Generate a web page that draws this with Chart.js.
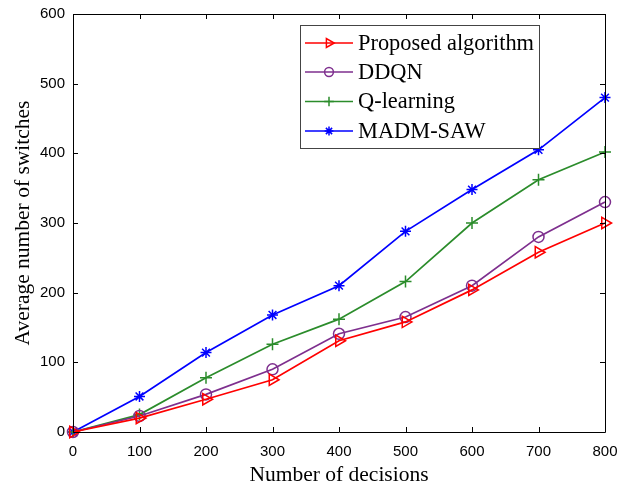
<!DOCTYPE html>
<html>
<head>
<meta charset="utf-8">
<script src="https://cdn.jsdelivr.net/npm/chart.js@4/dist/chart.umd.min.js"></script>
<style>
  html, body { margin: 0; padding: 0; background: #fff; }
  #wrap { width: 618px; height: 486px; }
</style>
</head>
<body>
<div id="wrap"><canvas id="c" width="618" height="486"></canvas></div>
<script>
// Number of decisions on the x axis
const decisions = [0, 100, 200, 300, 400, 500, 600, 700, 800];

// Average number of switches for each method
const proposed  = [0, 20, 47, 75, 131, 158, 204, 258, 300];
const ddqn      = [0, 23, 54, 90, 141, 165, 210, 280, 330];
const qLearning = [0, 25, 78, 126, 162, 216, 300, 362, 402];
const madmSaw   = [0, 51, 114, 168, 210, 288, 348, 405, 480];

// Tick values
const xTicks = [0, 100, 200, 300, 400, 500, 600, 700, 800];
const yTicks = [0, 100, 200, 300, 400, 500, 600];

const seriesNames = ['Proposed algorithm', 'DDQN', 'Q-learning', 'MADM-SAW'];

const toPoints = vals => vals.map((v, i) => ({ x: decisions[i], y: v }));

const styles = [
  { color: '#ff0000', pointStyle: 'triangle', rotation: 90, radius: 6.5 },
  { color: '#7e2f8e', pointStyle: 'circle',   rotation: 0,  radius: 5.5 },
  { color: '#2b8c2b', pointStyle: 'cross',    rotation: 0,  radius: 6 },
  { color: '#0000ff', pointStyle: 'star',     rotation: 0,  radius: 5.5 }
];
const allValues = [proposed, ddqn, qLearning, madmSaw];

const datasets = allValues.map((vals, i) => ({
  label: seriesNames[i],
  data: toPoints(vals),
  borderColor: styles[i].color,
  borderWidth: 1.7,
  pointStyle: styles[i].pointStyle,
  pointRotation: styles[i].rotation,
  pointRadius: styles[i].radius,
  pointBorderColor: styles[i].color,
  pointBackgroundColor: 'rgba(0,0,0,0)',
  pointBorderWidth: 1.5,
  tension: 0,
  fill: false,
  clip: false
}));

// Box around the plot with inward tick marks on all four sides
const framePlugin = {
  id: 'frame',
  afterDatasetsDraw(chart) {
    const { ctx, chartArea: { left, right, top, bottom }, scales: { x, y } } = chart;
    const tl = 5;
    ctx.save();
    ctx.strokeStyle = '#000';
    ctx.lineWidth = 1;
    ctx.beginPath();
    ctx.rect(Math.round(left) + 0.5, Math.round(top) + 0.5, Math.round(right - left), Math.round(bottom - top));
    xTicks.forEach(v => {
      const px = Math.round(x.getPixelForValue(v)) + 0.5;
      ctx.moveTo(px, bottom); ctx.lineTo(px, bottom - tl);
      ctx.moveTo(px, top); ctx.lineTo(px, top + tl);
    });
    yTicks.forEach(v => {
      const py = Math.round(y.getPixelForValue(v)) + 0.5;
      ctx.moveTo(left, py); ctx.lineTo(left + tl, py);
      ctx.moveTo(right, py); ctx.lineTo(right - tl, py);
    });
    ctx.stroke();
    ctx.restore();
  }
};

// Legend box in the upper part of the plot
const legendBoxPlugin = {
  id: 'legendBox',
  afterDraw(chart) {
    const { ctx } = chart;
    const bx = 300, by = 25, bw = 239, bh = 123;
    const rowY = [43, 72, 101.5, 131];
    ctx.save();
    ctx.fillStyle = '#fff';
    ctx.fillRect(bx, by, bw, bh);
    ctx.strokeStyle = '#444';
    ctx.lineWidth = 1;
    ctx.strokeRect(bx + 0.5, by + 0.5, bw, bh);
    ctx.font = '22.4px "Liberation Serif", "Times New Roman", serif';
    ctx.textBaseline = 'middle';
    ctx.textAlign = 'left';
    chart.data.datasets.forEach((ds, i) => {
      const yy = rowY[i];
      ctx.strokeStyle = ds.borderColor;
      ctx.lineWidth = 1.7;
      ctx.beginPath();
      ctx.moveTo(305, yy);
      ctx.lineTo(353, yy);
      ctx.stroke();
      ctx.fillStyle = 'rgba(0,0,0,0)';
      ctx.lineWidth = 1.5;
      Chart.helpers.drawPoint(ctx, {
        pointStyle: ds.pointStyle,
        rotation: ds.pointRotation,
        radius: ds.pointRadius * 0.8,
        borderWidth: 1.5
      }, 329, yy);
      ctx.fillStyle = '#000';
      ctx.fillText(ds.label, 358, yy + 1);
    });
    ctx.restore();
  }
};

new Chart(document.getElementById('c'), {
  type: 'line',
  data: { datasets },
  options: {
    responsive: false,
    animation: false,
    events: [],
    layout: { padding: { left: 0, right: 13, top: 14, bottom: 0 } },
    plugins: { legend: { display: false }, tooltip: { enabled: false } },
    scales: {
      x: {
        type: 'linear',
        min: 0, max: 800,
        afterBuildTicks: s => { s.ticks = xTicks.map(v => ({ value: v })); },
        grid: { display: false, drawTicks: false },
        border: { display: false },
        ticks: {
          padding: 11,
          color: '#000',
          font: { family: '"Liberation Sans", Arial, sans-serif', size: 15 },
          maxRotation: 0, autoSkip: false
        },
        title: {
          display: true,
          text: 'Number of decisions',
          color: '#000',
          font: { family: '"Liberation Serif", "Times New Roman", serif', size: 21.5, lineHeight: 1 },
          padding: { top: 0, bottom: 0 }
        },
        afterFit: s => { s.height = 54; s.paddingLeft = 0; s.paddingRight = 0; }
      },
      y: {
        type: 'linear',
        min: 0, max: 600,
        afterBuildTicks: s => { s.ticks = yTicks.map(v => ({ value: v })); },
        grid: { display: false, drawTicks: false },
        border: { display: false },
        ticks: {
          padding: 8,
          color: '#000',
          font: { family: '"Liberation Sans", Arial, sans-serif', size: 15 }
        },
        title: {
          display: true,
          text: 'Average number of switches',
          color: '#000',
          font: { family: '"Liberation Serif", "Times New Roman", serif', size: 21.5, lineHeight: 1 },
          padding: { top: 13, bottom: 0 }
        },
        afterFit: s => { s.width = 73; s.paddingTop = 0; s.paddingBottom = 0; }
      }
    }
  },
  plugins: [framePlugin, legendBoxPlugin]
});
</script>
</body>
</html>
